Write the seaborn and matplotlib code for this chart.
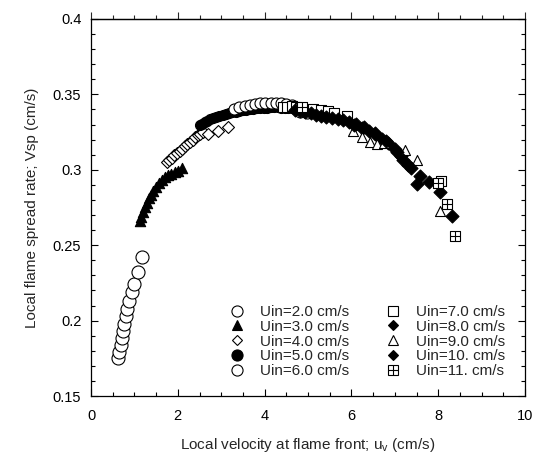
import matplotlib
matplotlib.use("Agg")
import matplotlib.pyplot as plt
import seaborn as sns
import pandas as pd
from matplotlib.lines import Line2D
from matplotlib.ticker import MultipleLocator, FuncFormatter

# Local flame spread rate vs local velocity at the flame front, per inlet velocity
uin2_x = [0.63, 0.65, 0.68, 0.71, 0.74, 0.77, 0.80, 0.84, 0.88, 0.94, 1.00, 1.09, 1.18]
uin2_y = [0.175, 0.1795, 0.184, 0.1885, 0.193, 0.198, 0.203, 0.208, 0.213, 0.219, 0.224, 0.232, 0.242]

uin3_x = [1.12, 1.16, 1.20, 1.24, 1.29, 1.34, 1.39, 1.44, 1.50, 1.56, 1.63, 1.70, 1.77, 1.85, 1.93, 2.01, 2.10]
uin3_y = [0.266, 0.269, 0.272, 0.275, 0.278, 0.281, 0.2835, 0.286, 0.2885, 0.291, 0.293, 0.295, 0.2965,
          0.2975, 0.2985, 0.2995, 0.301]

uin4_x = [1.74, 1.80, 1.86, 1.92, 1.98, 2.04, 2.10, 2.16, 2.22, 2.28, 2.34, 2.40, 2.46, 2.52, 2.58,
          2.70, 2.93, 3.16]
uin4_y = [0.305, 0.3065, 0.308, 0.3095, 0.311, 0.3125, 0.314, 0.3155, 0.317, 0.3185, 0.320, 0.3215,
          0.323, 0.324, 0.325, 0.324, 0.326, 0.3284]

uin5_x = [2.50, 2.56, 2.62, 2.68, 2.75, 2.82, 2.89, 2.96, 3.03, 3.10, 3.18, 3.26, 3.34, 3.42, 3.50,
          3.58, 3.66, 3.74, 3.82, 3.90, 3.98, 4.06, 4.14, 4.22, 4.30, 4.38, 4.46, 4.54, 4.62, 4.70,
          4.78, 4.86, 4.94, 5.02]
uin5_y = [0.3295, 0.3305, 0.3315, 0.3325, 0.3335, 0.3343, 0.335, 0.3357, 0.3363, 0.3369, 0.3375,
          0.338, 0.3385, 0.339, 0.3394, 0.3398, 0.3402, 0.3405, 0.3408, 0.341, 0.3412, 0.3413, 0.3414,
          0.3414, 0.3414, 0.3413, 0.3412, 0.341, 0.3408, 0.3405, 0.3402, 0.3398, 0.3394, 0.339]

uin6_x = [3.30, 3.42, 3.54, 3.66, 3.78, 3.90, 4.02, 4.14, 4.26, 4.38, 4.50, 4.62, 4.82, 4.97]
uin6_y = [0.3405, 0.3415, 0.3425, 0.343, 0.3436, 0.344, 0.3443, 0.3444, 0.3443, 0.344, 0.3436, 0.343,
          0.3385, 0.3375]

uin7_x = [4.42, 4.52, 4.62, 4.72, 4.82, 5.12, 5.30, 5.45, 5.60, 5.90, 8.06]
uin7_y = [0.3415, 0.3418, 0.342, 0.3418, 0.3412, 0.340, 0.3395, 0.339, 0.3375, 0.3355, 0.2925]

uin8_x = [4.70, 4.82, 4.94, 5.06, 5.18, 5.30, 5.42, 5.55, 5.68, 5.81, 5.95, 6.10, 6.25, 6.40, 6.55,
          6.70, 6.85, 7.00, 7.15, 7.30, 7.50]
uin8_y = [0.3395, 0.339, 0.3385, 0.3375, 0.3365, 0.3355, 0.335, 0.3345, 0.334, 0.333, 0.332, 0.3305,
          0.328, 0.3255, 0.3235, 0.3205, 0.3175, 0.314, 0.309, 0.303, 0.2905]

uin9_x = [6.04, 6.24, 6.43, 6.58, 6.76, 7.24, 7.50, 8.04]
uin9_y = [0.326, 0.3218, 0.3184, 0.3173, 0.3175, 0.313, 0.3062, 0.2725]

uin10_x = [6.05, 6.30, 6.55, 6.80, 7.05, 7.20, 7.38, 7.58, 7.78, 8.04, 8.31]
uin10_y = [0.330, 0.3285, 0.3245, 0.319, 0.312, 0.3065, 0.301, 0.296, 0.292, 0.2852, 0.2692]

uin11_x = [4.86, 8.00, 8.20, 8.39]
uin11_y = [0.3415, 0.2912, 0.2775, 0.2564]

labels = ["Uin=2.0 cm/s", "Uin=3.0 cm/s", "Uin=4.0 cm/s", "Uin=5.0 cm/s", "Uin=6.0 cm/s",
          "Uin=7.0 cm/s", "Uin=8.0 cm/s", "Uin=9.0 cm/s", "Uin=10. cm/s", "Uin=11. cm/s"]
xs = [uin2_x, uin3_x, uin4_x, uin5_x, uin6_x, uin7_x, uin8_x, uin9_x, uin10_x, uin11_x]
ys = [uin2_y, uin3_y, uin4_y, uin5_y, uin6_y, uin7_y, uin8_y, uin9_y, uin10_y, uin11_y]

# marker, face colour, scatter size (pt^2), legend marker size (pt)
styles = [
    ("o", "white", 88, 8.0),
    ("^", "black", 55, 7.5),
    ("D", "white", 37, 5.6),
    ("o", "black", 52, 8.0),
    ("o", "white", 63, 8.0),
    ("s", "white", 52, 7.2),
    ("D", "black", 44, 5.6),
    ("^", "white", 52, 7.5),
    ("D", "black", 44, 5.6),
    ("grid", "white", 52, 7.2),
]

frames = [pd.DataFrame({"u": x, "vsp": y, "series": lab}) for lab, x, y in zip(labels, xs, ys)]
df = pd.concat(frames, ignore_index=True)

sns.set_style("ticks")
plt.rcParams["font.family"] = ["Liberation Sans", "DejaVu Sans"]
plt.rcParams["mathtext.fontset"] = "custom"
plt.rcParams["mathtext.rm"] = "Liberation Sans"

fig = plt.figure(figsize=(5.38, 4.61), dpi=100)
ax = fig.add_axes([91 / 538, 1 - 396 / 461, 434 / 538, 377 / 461])

EDGE_LW = 0.8
handles = []
for lab, (mk, fc, size, lms) in zip(labels, styles):
    sub = df[df["series"] == lab]
    if mk == "grid":
        sns.scatterplot(data=sub, x="u", y="vsp", marker="s", s=size, facecolor="white",
                        edgecolor="black", linewidth=EDGE_LW, ax=ax, legend=False)
        sns.scatterplot(data=sub, x="u", y="vsp", marker="+", s=size, color="black",
                        edgecolor="black", linewidth=EDGE_LW, ax=ax, legend=False)
        h = (Line2D([], [], marker="s", ls="none", ms=lms, mfc="white", mec="black", mew=EDGE_LW),
             Line2D([], [], marker="+", ls="none", ms=lms, color="black", mew=EDGE_LW))
    else:
        sns.scatterplot(data=sub, x="u", y="vsp", marker=mk, s=size, facecolor=fc,
                        edgecolor="black", linewidth=EDGE_LW, ax=ax, legend=False)
        h = Line2D([], [], marker=mk, ls="none", ms=lms, mfc=fc, mec="black", mew=EDGE_LW)
    handles.append(h)

ax.set_xlim(0, 10)
ax.set_ylim(0.15, 0.4)
ax.xaxis.set_major_locator(MultipleLocator(2))
ax.xaxis.set_minor_locator(MultipleLocator(0.5))
ax.yaxis.set_major_locator(MultipleLocator(0.05))
ax.yaxis.set_minor_locator(MultipleLocator(0.01))
ax.yaxis.set_major_formatter(FuncFormatter(lambda v, p: f"{v:g}"))
ax.xaxis.set_major_formatter(FuncFormatter(lambda v, p: f"{v:g}"))

for side in ["left", "right", "top", "bottom"]:
    ax.spines[side].set_visible(True)
    ax.spines[side].set_linewidth(0.9)
    ax.spines[side].set_color("black")

ax.tick_params(axis="both", which="both", direction="in", color="black", width=0.8,
               labelsize=10.5, labelcolor="black")
ax.tick_params(axis="both", which="major", length=5)
ax.tick_params(axis="both", which="minor", length=2.8)
ax.tick_params(axis="y", which="both", left=True, right=True, pad=7)
ax.tick_params(axis="x", which="both", bottom=True, top=False, pad=9)

# Top edge carries outward ticks without labels
top = ax.secondary_xaxis("top")
top.xaxis.set_major_locator(MultipleLocator(2))
top.xaxis.set_minor_locator(MultipleLocator(0.5))
top.tick_params(axis="x", which="both", direction="out", width=0.8, labeltop=False)
top.tick_params(axis="x", which="major", length=5)
top.tick_params(axis="x", which="minor", length=2.8)
top.spines["top"].set_linewidth(0.9)

ax.set_xlabel("Local velocity at flame front; u$_{\\mathregular{v}}$ (cm/s)", fontsize=11, labelpad=10)
ax.set_ylabel("Local flame spread rate; Vsp (cm/s)", fontsize=11, labelpad=10)

ax.legend(handles, labels, ncol=2, frameon=False, fontsize=11,
          loc="upper left", bbox_to_anchor=(229 / 538, 1 - 305 / 461),
          bbox_transform=fig.transFigure, borderpad=0, borderaxespad=0,
          handlelength=1.0, handletextpad=1.0, columnspacing=2.4, labelspacing=0.05)

fig.savefig("out.png", dpi=100, facecolor="white")
